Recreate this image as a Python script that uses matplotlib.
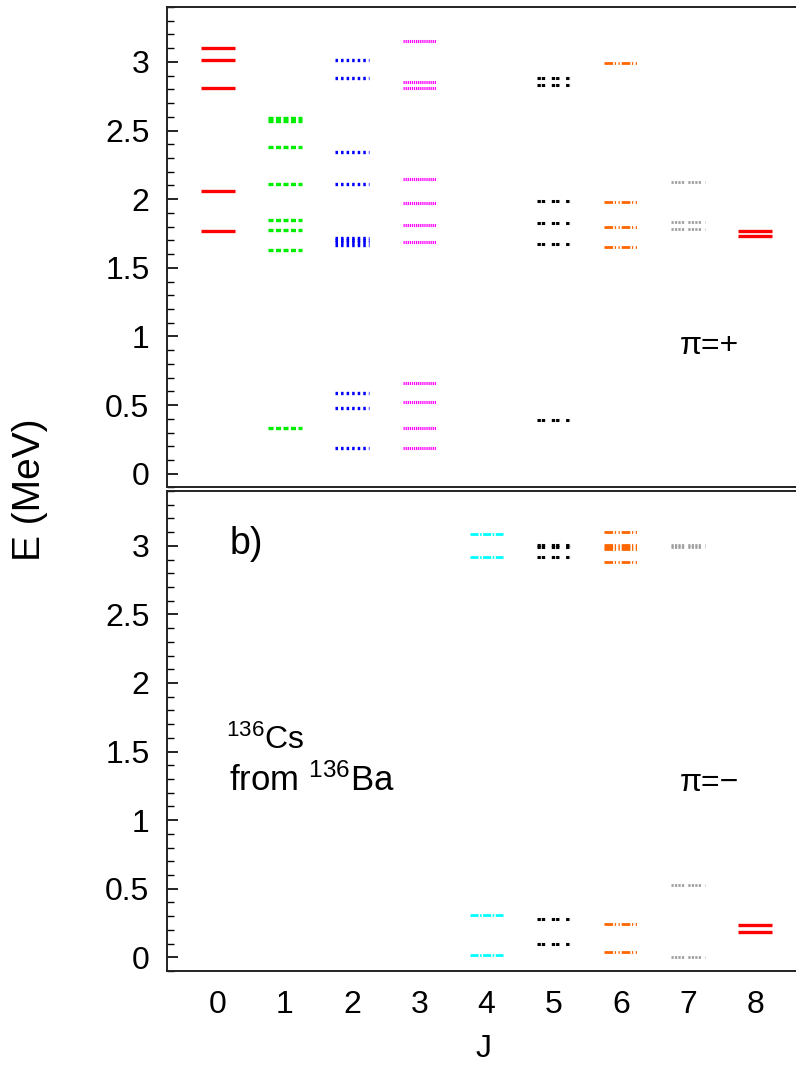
import matplotlib
matplotlib.use("Agg")
import matplotlib.pyplot as plt
from matplotlib.ticker import MultipleLocator, FormatStrFormatter

plt.rcParams['font.family'] = ['Liberation Sans', 'DejaVu Sans']
plt.rcParams['mathtext.fontset'] = 'custom'
plt.rcParams['mathtext.rm'] = 'Liberation Sans'
plt.rcParams['mathtext.default'] = 'regular'
plt.rcParams['lines.scale_dashes'] = False

# spins on the x axis
spins = [0, 1, 2, 3, 4, 5, 6, 7, 8]

# positive parity levels (MeV), one list per J
pos_levels = [
    [1.77, 2.06, 2.81, 3.01, 3.10],
    [0.33, 1.63, 1.775, 1.85, 2.11, 2.38, 2.57, 2.59],
    [0.19, 0.48, 0.59, 1.665, 1.685, 1.705, 1.72, 2.11, 2.345, 2.88, 3.015],
    [0.185, 0.33, 0.52, 0.66, 1.69, 1.815, 1.97, 2.15, 2.81, 2.85, 3.15],
    [],
    [0.39, 1.67, 1.825, 1.99, 2.83, 2.88],
    [1.65, 1.80, 1.98, 2.99],
    [1.78, 1.835, 2.125],
    [1.73, 1.77],
]

# negative parity levels (MeV)
neg_levels = [
    [],
    [],
    [],
    [],
    [0.017, 0.31, 2.92, 3.09],
    [0.095, 0.277, 2.92, 2.99, 3.005],
    [0.036, 0.243, 2.88, 2.975, 2.99, 3.005, 3.10],
    [0.0, 0.527, 2.99, 3.005],
    [0.182, 0.235],
]

# gnuplot-like line types per J: colour, dash pattern (pt), width (pt)
styles = [
    ('#ff0000', 'solid', 2.4),
    ('#00ee00', (0, (3.6, 1.8)), 2.4),
    ('#0000ff', (0, (1.8, 2.2)), 2.4),
    ('#ff00ff', (0, (0.9, 0.6)), 2.2),
    ('#00ffff', (0, (5.8, 1.1, 1.1, 1.1)), 2.0),
    ('#000000', (0, (2.4, 0.7, 2.4, 4.8)), 2.2),
    ('#ff6600', (0, (6.2, 1.2, 0.9, 1.8, 0.9, 1.4)), 2.0),
    ('#a0a0a0', (0, (1.6, 0.9, 1.6, 0.9, 1.6, 0.9, 1.6, 3.0)), 2.0),
    ('#ff0000', 'solid', 2.4),
]

fig = plt.figure(figsize=(7.96, 10.69), dpi=100)
ax_top = fig.add_axes([0.2104, 0.5440, 0.7930, 0.4495])
ax_bot = fig.add_axes([0.2104, 0.0917, 0.7930, 0.4490])

half = 0.25
for ax, levels in ((ax_top, pos_levels), (ax_bot, neg_levels)):
    for j, lv, (col, ls, lw) in zip(spins, levels, styles):
        if lv:
            ax.hlines(lv, j - half, j + half, colors=col, linestyles=ls,
                      linewidth=lw, capstyle='butt')
    ax.set_xlim(-0.75, 8.65)
    ax.set_ylim(-0.1, 3.4)
    ax.yaxis.set_major_locator(MultipleLocator(0.5))
    ax.yaxis.set_minor_locator(MultipleLocator(0.1))
    ax.yaxis.set_major_formatter(FormatStrFormatter('%g'))
    ax.tick_params(axis='y', which='major', direction='in', length=8,
                   width=1.2, labelsize=23, pad=13)
    ax.tick_params(axis='y', which='minor', direction='in', length=5,
                   width=1.0)
    ax.tick_params(axis='x', length=0, labelsize=23, pad=14)
    ax.set_xticks(spins)
    for sp in ax.spines.values():
        sp.set_linewidth(1.4)
        sp.set_color('#222222')

ax_top.tick_params(axis='x', labelbottom=False)

ax_top.text(6.88, 0.93, '\u03c0=+', fontsize=23, va='center', ha='left')
ax_bot.text(6.88, 1.27, '\u03c0=\u2212', fontsize=23, va='center', ha='left')
ax_bot.text(0.18, 3.01, 'b)', fontsize=27, va='center', ha='left')
ax_bot.text(0.12, 1.58, r'$^{136}$Cs', fontsize=23, va='center', ha='left')
ax_bot.text(0.16, 1.29, r'from $^{136}$Ba', fontsize=25, va='center', ha='left')

ax_bot.set_xlabel('J', fontsize=23, labelpad=10)
fig.text(0.038, 0.542, 'E (MeV)', rotation=90, fontsize=28,
         ha='center', va='center')

fig.savefig('out.png', dpi=100)
